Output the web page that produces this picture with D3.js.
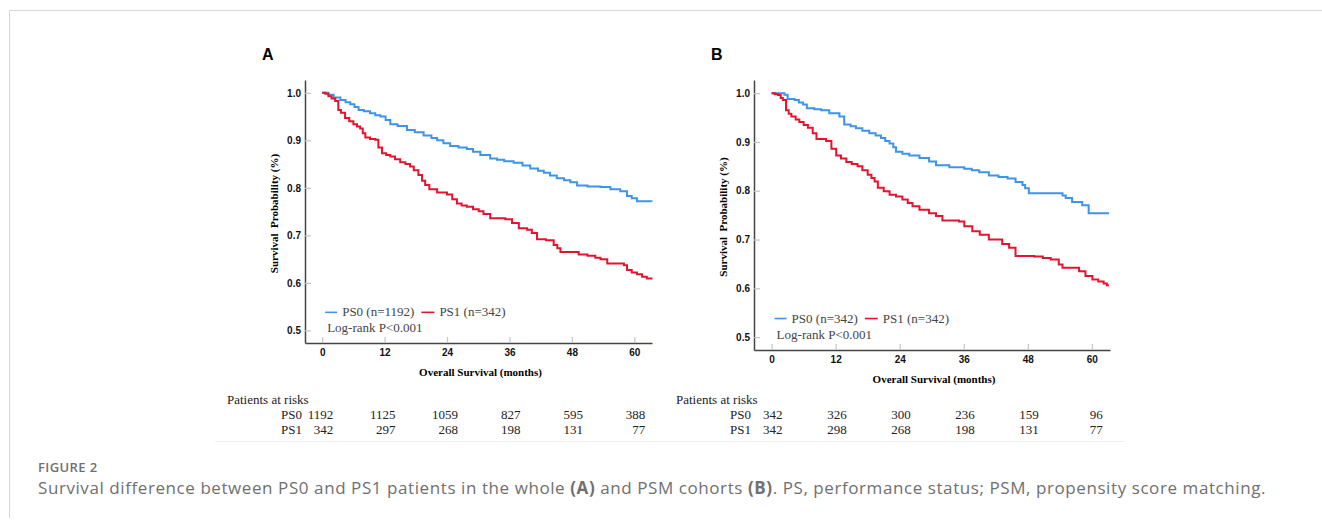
<!DOCTYPE html>
<html>
<head>
<meta charset="utf-8">
<script src="https://cdn.jsdelivr.net/npm/d3@7"></script>
<style>
  body { margin: 0; background: #fff; }
  svg { display: block; }
</style>
</head>
<body>
<script>

// x ticks / risk table time points (months)
var months = [0, 12, 24, 36, 48, 60];
var yTicks = [0.5, 0.6, 0.7, 0.8, 0.9, 1.0];

// patients at risk
var riskA_PS0 = [1192, 1125, 1059, 827, 595, 388];
var riskA_PS1 = [342, 297, 268, 198, 131, 77];
var riskB_PS0 = [342, 326, 300, 236, 159, 96];
var riskB_PS1 = [342, 298, 268, 198, 131, 77];

// Kaplan-Meier curves: [month, survival]
var kmA_PS0 = [[0,1.0],[1.2,0.996],[2.2,0.990],[3.5,0.985],[4.5,0.980],[5.4,0.976],[6.2,0.970],[7,0.964],[8,0.961],[9.2,0.957],[10.2,0.953],[11.2,0.950],[12.2,0.943],[13.1,0.934],[14.5,0.930],[16.3,0.922],[17.8,0.917],[19.5,0.910],[21,0.905],[22.1,0.900],[23.3,0.894],[24.6,0.888],[26.2,0.885],[27.8,0.882],[29,0.876],[30.4,0.869],[32.3,0.862],[33.6,0.859],[35,0.856],[36.8,0.853],[38.5,0.847],[40,0.841],[41.5,0.836],[42.6,0.832],[43.8,0.826],[45.1,0.820],[46.5,0.816],[47.7,0.812],[49,0.805],[51,0.803],[53.5,0.802],[55.4,0.797],[57.3,0.793],[58.6,0.783],[59.5,0.778],[60.5,0.772],[63.3,0.771]];
var kmA_PS1 = [[0,1.0],[0.6,0.998],[1.2,0.993],[1.8,0.988],[2.5,0.983],[3.1,0.964],[3.6,0.958],[4.4,0.947],[5.2,0.940],[6,0.934],[6.7,0.929],[7.3,0.925],[7.8,0.915],[8.3,0.906],[9.2,0.903],[10.2,0.901],[10.8,0.885],[11.5,0.873],[12.3,0.869],[13.1,0.866],[14,0.860],[15,0.854],[16,0.850],[16.9,0.845],[17.6,0.837],[18.5,0.827],[19.2,0.815],[19.8,0.806],[20.6,0.797],[22.1,0.790],[24,0.786],[25,0.776],[25.9,0.767],[26.8,0.763],[27.8,0.760],[29,0.755],[30.1,0.751],[31,0.745],[32.3,0.736],[35.2,0.734],[36.5,0.726],[37.8,0.715],[39.4,0.712],[40.3,0.705],[41.3,0.692],[43,0.690],[44.5,0.680],[45.2,0.673],[45.8,0.665],[49.3,0.660],[51,0.657],[52.5,0.653],[53.5,0.650],[54.8,0.641],[58,0.637],[58.6,0.627],[59.5,0.622],[60.5,0.618],[61.5,0.613],[62.4,0.609],[63.3,0.607]];
var kmB_PS0 = [[0,1.0],[2.4,0.997],[3,0.988],[4.3,0.986],[5.1,0.981],[5.9,0.977],[6.6,0.969],[8,0.967],[9.3,0.965],[10.8,0.959],[12.7,0.952],[13.6,0.936],[14.8,0.932],[15.8,0.928],[17,0.923],[18.3,0.918],[19.5,0.913],[20.5,0.908],[21.3,0.902],[22.1,0.897],[22.8,0.889],[23.3,0.880],[24.5,0.876],[25.8,0.872],[27.7,0.867],[29.5,0.860],[30.8,0.852],[33.3,0.848],[36.1,0.845],[37.5,0.842],[38.9,0.838],[40.7,0.831],[42.5,0.828],[44.2,0.825],[45.7,0.818],[47,0.812],[47.5,0.805],[48.2,0.795],[54.5,0.790],[55.1,0.785],[56.3,0.777],[58.2,0.770],[59.4,0.754],[63.2,0.754]];
var kmB_PS1 = [[0,1.0],[0.6,0.998],[1.2,0.996],[1.7,0.990],[2.1,0.986],[2.7,0.965],[3.2,0.958],[3.7,0.952],[4.5,0.946],[5.2,0.941],[6,0.935],[6.8,0.929],[7.7,0.918],[8.4,0.906],[10.2,0.902],[11.2,0.886],[12.1,0.872],[13,0.866],[14,0.859],[15,0.855],[16.1,0.850],[17,0.842],[18,0.833],[18.7,0.826],[19.3,0.819],[19.9,0.806],[21,0.799],[22.1,0.792],[23.3,0.788],[24.5,0.782],[25.5,0.775],[26.4,0.768],[27.7,0.761],[29.5,0.754],[30.8,0.748],[32,0.739],[35.1,0.737],[36.1,0.727],[37.6,0.717],[39,0.710],[40.7,0.700],[43.2,0.691],[44.5,0.683],[45.7,0.666],[49.2,0.665],[50.8,0.662],[52.3,0.659],[53.8,0.649],[54.5,0.642],[57.6,0.635],[58.8,0.625],[60.1,0.618],[61.2,0.614],[62.2,0.610],[62.8,0.606],[63.2,0.606]];

var legendA = ["PS0 (n=1192)", "PS1 (n=342)"];
var legendB = ["PS0 (n=342)", "PS1 (n=342)"];

var blue = "#3f93e8", red = "#e3142f";
var serif = "'Liberation Serif', 'Times New Roman', serif";
var sans = "'Liberation Sans', Arial, sans-serif";

var W = 1322, H = 527;

var svg = d3.select("body").append("svg")
    .attr("width", W)
    .attr("height", H);

svg.append("rect").attr("width", W).attr("height", H).attr("fill", "#fff");

// page frame (top + left border)
svg.append("line").attr("x1", 9.5).attr("x2", W).attr("y1", 10.5).attr("y2", 10.5)
    .attr("stroke", "#d6d6d6").attr("stroke-width", 1.2);
svg.append("line").attr("x1", 9.5).attr("x2", 9.5).attr("y1", 10.5).attr("y2", 518)
    .attr("stroke", "#d6d6d6").attr("stroke-width", 1);

// faint bottom edge of the figure image
svg.append("line").attr("x1", 215).attr("x2", 1125).attr("y1", 441.5).attr("y2", 441.5)
    .attr("stroke", "#f0f0f0");

function panel(cfg) {
  var x = d3.scaleLinear().domain([-3.3, 63.4]).range([cfg.left, cfg.right]);
  var y = d3.scaleLinear().domain([0.4735, 1.027]).range([cfg.bottom, cfg.top]);
  var g = svg.append("g");

  // panel letter
  g.append("text")
      .attr("x", cfg.left - 43).attr("y", 60)
      .style("font-family", sans).style("font-weight", "bold").style("font-size", "16px")
      .text(cfg.letter);

  // y axis, ticks pointing inward
  var ya = g.append("g")
      .attr("transform", "translate(" + cfg.left + ",0)")
      .call(d3.axisLeft(y).tickValues(yTicks).tickFormat(d3.format(".1f")).tickSize(-6).tickSizeOuter(0).tickPadding(4));
  // x axis
  var xa = g.append("g")
      .attr("transform", "translate(0," + cfg.bottom + ")")
      .call(d3.axisBottom(x).tickValues(months).tickSize(-6).tickSizeOuter(0).tickPadding(6));

  [ya, xa].forEach(function(a) {
    a.select(".domain").attr("stroke", "#444").attr("stroke-width", 1.5);
    a.selectAll(".tick line").attr("stroke", "#c4c4c4").attr("stroke-width", 1.2);
    a.selectAll(".tick text")
        .style("font-family", sans).style("font-weight", "bold").style("font-size", "10px")
        .attr("fill", "#111");
  });

  // axis titles
  g.append("text")
      .attr("x", (cfg.left + cfg.right) / 2 + 2).attr("y", cfg.bottom + 33)
      .attr("text-anchor", "middle")
      .style("font-family", serif).style("font-weight", "bold").style("font-size", "11px")
      .text("Overall Survival (months)");
  g.append("text")
      .attr("transform", "translate(" + (cfg.left - 27) + "," + ((cfg.top + cfg.bottom) / 2 + 2) + ") rotate(-90)")
      .attr("text-anchor", "middle")
      .style("font-family", serif).style("font-weight", "bold").style("font-size", "11px")
      .style("white-space", "pre")
      .text("Survival  Probability (%)");

  // KM curves
  var line = d3.line()
      .x(function(d) { return x(d[0]); })
      .y(function(d) { return y(d[1]); })
      .curve(d3.curveStepAfter);

  [[cfg.km0, blue], [cfg.km1, red]].forEach(function(s) {
    g.append("path")
        .datum(s[0])
        .attr("d", line)
        .attr("fill", "none")
        .attr("stroke", s[1])
        .attr("stroke-width", 2);
  });

  // legend
  var ly = y(0.538), lx = x(0) + 3;
  g.append("line").attr("x1", lx).attr("x2", lx + 12).attr("y1", ly).attr("y2", ly)
      .attr("stroke", blue).attr("stroke-width", 1.6);
  var t0 = g.append("text").attr("x", lx + 17).attr("y", ly + 4)
      .style("font-family", serif).style("font-size", "13px").attr("fill", "#444")
      .text(cfg.legend[0]);
  var rx = lx + 17 + t0.node().getComputedTextLength() + 7;
  g.append("line").attr("x1", rx).attr("x2", rx + 13).attr("y1", ly).attr("y2", ly)
      .attr("stroke", red).attr("stroke-width", 1.6);
  g.append("text").attr("x", rx + 18).attr("y", ly + 4)
      .style("font-family", serif).style("font-size", "13px").attr("fill", "#444")
      .text(cfg.legend[1]);
  g.append("text").attr("x", lx + 2).attr("y", y(0.497))
      .style("font-family", serif).style("font-size", "13px").attr("fill", "#444")
      .text("Log-rank P<0.001");

  // patients at risk table
  var tb = g.append("g")
      .style("font-family", serif).style("font-size", "13px").attr("fill", "#222");
  tb.append("text").attr("x", cfg.left - 78).attr("y", 404).text("Patients at risks");
  [["PS0", cfg.risk0, 419], ["PS1", cfg.risk1, 434]].forEach(function(r) {
    tb.append("text").attr("x", cfg.left - 3).attr("y", r[2]).attr("text-anchor", "end").text(r[0]);
    tb.selectAll(null).data(r[1]).enter().append("text")
        .attr("x", function(d, i) { return x(months[i]) + 11; })
        .attr("y", r[2])
        .attr("text-anchor", "end")
        .text(function(d) { return d; });
  });
}

panel({letter: "A", left: 305, right: 652, top: 80, bottom: 343,
       km0: kmA_PS0, km1: kmA_PS1, risk0: riskA_PS0, risk1: riskA_PS1, legend: legendA});
panel({letter: "B", left: 754, right: 1110, top: 80, bottom: 350,
       km0: kmB_PS0, km1: kmB_PS1, risk0: riskB_PS0, risk1: riskB_PS1, legend: legendB});

// caption
var capFont = "'Open Sans', 'Noto Sans', sans-serif";
svg.append("text")
    .attr("x", 38).attr("y", 472)
    .style("font-family", capFont).style("font-size", "13px").style("font-weight", 600)
    .style("letter-spacing", "0.4px")
    .attr("fill", "#707070")
    .text("FIGURE 2");
var cap = svg.append("text")
    .attr("x", 38).attr("y", 494)
    .style("font-family", capFont).style("font-size", "17px")
    .attr("fill", "#707070");
cap.append("tspan").text("Survival difference between PS0 and PS1 patients in the whole ");
cap.append("tspan").style("font-weight", "bold").text("(A)");
cap.append("tspan").text(" and PSM cohorts ");
cap.append("tspan").style("font-weight", "bold").text("(B)");
cap.append("tspan").text(". PS, performance status; PSM, propensity score matching.");

// stretch the caption to the width it has in the figure (ends near x=1266)
var capW = cap.node().getComputedTextLength();
var nChars = cap.text().length;
cap.style("letter-spacing", ((1228 - capW) / nChars) + "px");

</script>
</body>
</html>
